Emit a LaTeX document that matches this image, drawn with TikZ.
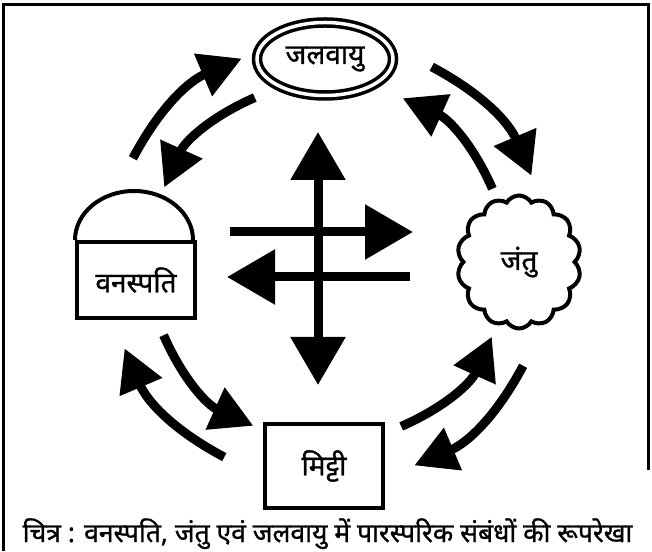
\documentclass[tikz,border=0pt]{standalone}
\usepackage{fontspec}
\newfontfamily\hindi[Script=Devanagari,FakeBold=1.0]{Noto Sans}
\usetikzlibrary{arrows.meta,shapes.geometric,shapes.symbols,calc}

\begin{document}
\begin{tikzpicture}[x=1pt,y=1pt]

%
% Styles
%
\tikzset{
  hinditext/.style={font=\hindi\bfseries\fontsize{28}{32}\selectfont},
  thingbox/.style={rectangle,draw,line width=4pt,inner sep=0pt,hinditext},
  ringarrow/.style={line width=9pt,-{Triangle[length=42pt,width=44pt]}},
  bigtip/.tip={Triangle[length=48pt,width=53pt]},
  crossarrow/.style={line width=9pt}
}

\useasboundingbox (0,0) rectangle (652,551);

% frame
\draw[line width=3pt] (3,0) -- (3,546) -- (648,546) -- (648,81);

% the four things
\node[ellipse,draw,double,double distance=3.5pt,line width=3.5pt,
      minimum width=136,minimum height=73,hinditext] (jalvayu) at (325,492) {जलवायु};
\node[thingbox,minimum width=118,minimum height=76] (vanaspati) at (136,271) {वनस्पति};
\draw[line width=4pt] (vanaspati.north west) arc[start angle=180,end angle=0,x radius=59,y radius=49];
\node[cloud,draw,line width=4pt,cloud puffs=14,cloud puff arc=120,aspect=0.93,
      minimum width=124,minimum height=133,hinditext] (jantu) at (519,289) {जंतु};
\node[thingbox,minimum width=118,minimum height=83] (mitti) at (324,85) {मिट्टी};

% ring of arrows
\coordinate (ring) at (328,289);
\foreach \a [count=\i] in {0,90,180,270} {
  \coordinate (os\i) at ($(ring)+(-\a-28:221)$);
  \coordinate (oe\i) at ($(ring)+(-\a-67:221)$);
  \coordinate (is\i) at ($(ring)+(-\a-66:180)$);
  \coordinate (ie\i) at ($(ring)+(-\a-24.5:180)$);
  \draw[ringarrow] (os\i) to[bend left=19.5] (oe\i);
  \draw[ringarrow] (is\i) to[bend right=21] (ie\i);
}

% cross in the middle
\coordinate (vtop) at (318,419);
\coordinate (vbot) at (318,166);
\coordinate (rtail) at (230,319);
\coordinate (rhead) at (413,319);
\coordinate (ltail) at (410,274);
\coordinate (lhead) at (227,274);
\draw[crossarrow,bigtip-bigtip] (vbot) -- (vtop);
\draw[crossarrow,-bigtip] (rtail) -- (rhead);
\draw[crossarrow,-bigtip] (ltail) -- (lhead);

% caption
\node[hinditext,font=\hindi\bfseries\fontsize{26.5}{30}\selectfont,anchor=base,inner sep=0pt] (caption) at (327.5,9)
  {चित्र : वनस्पति, जंतु एवं जलवायु में पारस्परिक संबंधों की रूपरेखा};

\end{tikzpicture}
\end{document}
